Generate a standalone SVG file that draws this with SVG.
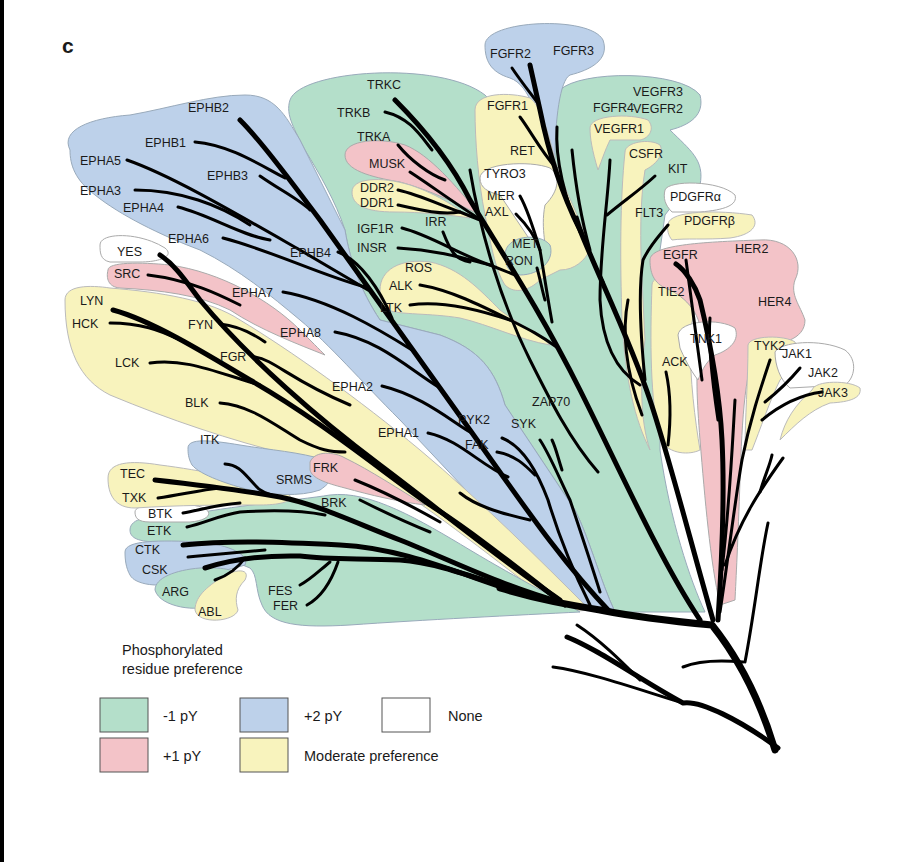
<svg xmlns="http://www.w3.org/2000/svg" width="906" height="867" viewBox="0 0 906 867">
<style>
.g{fill:#b4dfca;stroke:#9ab;stroke-width:1}
.b{fill:#bdd1ea;stroke:#9ab;stroke-width:1}
.p{fill:#f3c3c8;stroke:#aaa;stroke-width:1}
.y{fill:#f8f3bd;stroke:#bbb;stroke-width:1}
.w{fill:#fff;stroke:#aaa;stroke-width:1}
.br path{fill:none;stroke:#000;stroke-linecap:round;stroke-linejoin:round;stroke-width:3}
.br .t{stroke-width:5}
.br .T{stroke-width:7}
text{font-family:"Liberation Sans",Arial,sans-serif;font-size:12.5px;fill:#1a1a1a}
.lg{font-size:14.5px}
</style>
<rect width="906" height="867" fill="#fff"/>
<rect x="0" y="0" width="4" height="862" fill="#000"/>
<text x="62" y="53" style="font-size:21px;font-weight:bold">c</text>
<g id="regions">
<path class="g" d="M290,100 C300,70 440,60 485,95 L500,110 L560,90 C580,70 680,70 700,95 C705,115 690,125 670,130 C690,150 705,160 700,185 C690,195 675,200 665,215 L660,250 L660,450 C670,520 690,580 705,612 L615,612 C600,580 590,540 575,510 L505,405 C495,370 480,350 440,335 L380,320 C360,290 350,260 345,230 C335,200 320,175 305,150 C295,130 285,115 290,100 Z"/>
<path class="b" d="M70,150 C60,130 90,118 130,115 C170,108 210,95 245,95 C275,95 285,115 300,140 L345,230 C350,260 360,290 380,320 L440,335 C480,350 495,370 505,405 L575,510 C590,540 600,580 615,612 L575,610 C550,590 520,545 480,505 L400,420 C360,380 330,345 300,320 C270,295 240,270 200,250 C160,235 120,215 95,195 C75,180 70,165 70,150 Z"/>
<path class="w" d="M100,245 C100,232 140,232 165,248 C175,256 160,262 140,262 L110,262 C100,260 100,252 100,245 Z"/>
<path class="p" d="M108,270 C108,262 140,262 170,265 C220,272 270,300 300,330 C310,340 320,350 325,355 C300,345 260,330 230,310 C200,295 160,290 120,288 C108,287 106,278 108,270 Z"/>
<path class="y" d="M65,300 C65,285 90,285 110,288 C160,292 210,300 240,320 C290,350 360,400 420,450 C480,500 540,560 590,610 L565,612 C520,580 460,530 400,490 C360,470 320,460 290,455 C230,440 170,420 110,395 C80,380 65,350 65,300 Z"/>
<path class="g" d="M130,530 C130,518 150,515 175,518 C210,508 300,500 330,495 C370,490 420,520 470,550 C520,580 560,600 580,612 C520,615 420,620 350,625 C300,628 270,625 262,605 C255,590 258,575 250,568 C230,560 200,545 160,542 C138,542 130,538 130,530 Z"/>
<path class="b" d="M125,552 C125,540 160,540 200,542 C230,545 250,555 245,565 C230,570 200,575 180,582 C160,588 135,585 130,575 C126,568 125,560 125,552 Z"/>
<path class="g" d="M155,590 C155,578 175,570 200,568 C225,567 240,570 240,580 C230,590 215,595 210,605 C200,612 160,608 155,590 Z"/>
<path class="y" d="M195,610 C195,595 210,585 225,575 C240,568 250,570 245,580 C235,590 235,600 238,610 C235,622 198,625 195,610 Z"/>
<path class="w" d="M135,512 C135,504 160,503 190,505 C215,507 215,520 190,522 L150,522 C138,522 135,518 135,512 Z"/>
<path class="y" d="M108,478 C108,462 130,460 160,465 C200,470 250,480 280,490 C300,497 290,505 260,505 C220,505 180,505 135,508 C115,508 108,495 108,478 Z"/>
<path class="b" d="M188,448 C188,438 210,440 240,445 C270,450 300,452 325,460 C340,467 335,480 320,490 C300,497 270,495 250,490 C230,485 200,475 192,465 C188,458 188,452 188,448 Z"/>
<path class="p" d="M310,462 C315,450 335,452 345,458 C370,470 400,490 425,505 C400,502 370,495 345,488 C325,483 312,478 310,470 Z"/>
<path class="p" d="M345,155 C345,140 380,137 405,145 C430,155 455,185 480,215 C460,205 430,190 400,182 C370,177 345,170 345,155 Z"/>
<path class="y" d="M352,192 C352,178 380,176 410,185 C440,195 460,210 470,218 C450,215 420,212 395,212 C365,212 352,205 352,192 Z"/>
<path class="y" d="M380,290 C380,270 400,258 430,262 C460,268 480,290 500,310 C520,325 540,335 550,345 C520,340 490,325 460,318 C430,313 400,315 388,310 C380,305 380,298 380,290 Z"/>
<path class="b" d="M485,45 C485,20 590,15 603,40 C610,60 590,70 570,75 C560,80 555,120 555,160 L545,160 C540,120 530,85 510,78 C490,72 485,60 485,45 Z"/>
<path class="y" d="M475,110 C475,92 510,92 530,98 C540,105 548,130 555,160 L560,175 C570,200 585,230 590,250 C585,260 575,270 560,270 L540,280 C530,290 515,295 505,285 C495,270 490,240 485,215 C478,180 475,140 475,110 Z"/>
<path class="w" d="M480,178 C480,163 530,160 550,168 C560,175 560,190 545,205 C540,230 548,250 545,258 L530,240 C520,225 510,210 500,195 C488,192 480,188 480,178 Z"/>
<path class="g" d="M505,255 C505,235 540,232 550,245 C555,260 540,275 520,275 C508,273 505,265 505,255 Z"/>
<path class="y" d="M590,128 C590,115 630,113 648,120 C655,128 650,138 640,140 L610,140 C605,150 602,160 598,170 C592,150 590,138 590,128 Z"/>
<path class="y" d="M625,152 C625,142 650,138 660,145 C665,155 655,165 645,170 C640,200 640,240 642,280 L645,340 C640,380 640,420 650,450 C635,420 625,380 622,320 C620,260 620,200 625,152 Z"/>
<path class="w" d="M665,190 C668,180 720,180 735,195 C738,205 725,210 700,212 L672,212 C665,205 663,198 665,190 Z"/>
<path class="y" d="M668,224 C670,210 720,210 752,215 C760,225 752,235 730,238 C705,240 685,238 672,240 C668,235 667,230 668,224 Z"/>
<path class="y" d="M652,285 C652,272 690,270 700,282 C705,300 690,310 690,340 C690,380 695,420 700,450 C690,455 670,455 660,440 C650,400 650,340 652,285 Z"/>
<path class="p" d="M650,260 C650,245 700,242 760,240 C790,238 805,260 795,280 C790,295 800,305 805,320 C805,340 780,345 760,345 C745,360 742,420 740,480 C738,540 736,580 735,600 L720,605 C710,560 705,500 700,440 C697,400 695,370 700,345 C705,320 690,300 670,290 C655,285 650,275 650,260 Z"/>
<path class="w" d="M678,335 C680,320 720,318 735,328 C740,340 730,350 715,355 C705,362 700,375 698,380 C690,370 683,355 680,348 Z"/>
<path class="y" d="M748,345 C750,335 785,335 795,342 C800,355 790,370 780,380 C770,400 760,430 752,450 L745,450 C745,420 748,380 748,345 Z"/>
<path class="w" d="M775,352 C780,342 820,338 845,350 C858,360 855,378 845,385 L790,388 C780,380 775,365 775,352 Z"/>
<path class="y" d="M812,390 C815,380 850,380 860,388 C862,398 850,402 830,403 C810,410 795,425 780,440 C785,420 795,405 812,390 Z"/>
</g>
<g id="connectors" class="br">
<path class="T" d="M775,750 C760,700 740,660 712,625 C680,622 640,618 600,610 C570,605 540,600 500,588"/>
<path class="t" d="M778,748 C740,720 700,700 683,703 C640,680 600,650 567,637"/>
<path d="M683,703 C640,690 590,672 553,667"/>
<path d="M640,680 C620,660 600,640 577,625"/>
<path d="M743,662 C720,660 700,660 683,667"/>
<path d="M745,662 C755,610 760,560 768,523"/>
<path d="M725,565 C740,520 760,490 783,458"/>
<path d="M760,492 C765,475 770,465 772,455"/>
<path class="t" d="M610,612 C560,560 520,500 470,430 C420,360 370,290 320,220 C290,180 260,140 240,120"/>
<path d="M195,142 C230,145 260,165 285,178"/>
<path d="M127,160 C170,175 230,210 300,250 L368,290"/>
<path d="M135,190 C180,190 220,205 250,225"/>
<path d="M178,207 C210,215 240,235 270,240"/>
<path d="M260,176 C280,190 300,200 310,210"/>
<path d="M223,238 C270,250 320,275 365,287"/>
<path d="M338,252 C360,260 380,290 392,318"/>
<path d="M283,292 C330,300 380,330 412,350"/>
<path d="M335,332 C380,340 410,370 440,388"/>
<path d="M382,386 C420,395 450,420 470,432"/>
<path d="M428,433 C460,440 480,465 508,477"/>
<path d="M502,438 C520,445 535,465 548,500 C560,540 575,575 590,605"/>
<path d="M497,452 C515,455 525,465 535,475"/>
<path d="M460,493 C475,505 495,512 530,520"/>
<path d="M540,440 C550,455 560,480 570,500 C580,530 590,560 600,592"/>
<path d="M552,440 C556,448 558,458 562,470"/>
<path class="t" d="M700,620 C660,560 620,470 580,390 C540,310 500,250 470,200 C450,160 420,125 395,100"/>
<path d="M385,112 C410,118 420,135 432,150"/>
<path d="M398,145 C410,160 430,175 445,180"/>
<path d="M410,172 C430,185 450,200 478,218"/>
<path d="M398,190 C420,195 440,205 460,212"/>
<path d="M398,205 C420,210 440,215 460,212 L480,220"/>
<path d="M402,228 C430,235 460,255 490,265 L515,275"/>
<path d="M398,248 C440,250 470,260 490,265"/>
<path d="M443,232 C450,250 455,260 470,262"/>
<path d="M420,285 C450,290 480,305 510,320"/>
<path d="M410,305 C440,300 480,310 510,320 C530,330 540,335 558,348"/>
<path d="M470,170 C480,230 500,300 530,360 C550,400 570,440 598,472"/>
<path d="M520,196 C528,210 534,230 540,250 C545,280 548,300 552,322"/>
<path d="M516,214 C527,225 535,235 540,250"/>
<path d="M537,268 C540,278 542,290 545,300"/>
<path class="t" d="M713,620 C690,540 670,460 650,400 C630,340 600,280 580,230 C560,190 548,150 540,110 L530,65"/>
<path d="M512,68 C520,80 528,90 537,102"/>
<path d="M520,117 C530,130 540,150 556,168"/>
<path d="M557,127 C555,160 565,200 580,232"/>
<path d="M572,150 C575,180 580,215 590,250"/>
<path d="M577,217 C585,245 595,265 603,282"/>
<path d="M610,160 C608,200 600,250 600,300 C602,340 615,370 640,385"/>
<path d="M655,176 C640,190 625,200 607,215"/>
<path d="M668,225 C660,235 650,245 643,260 C638,290 640,330 645,380"/>
<path d="M628,300 C622,330 625,370 642,415"/>
<path d="M666,372 C670,390 672,410 668,445"/>
<path class="t" d="M718,620 C722,560 725,500 722,440 C720,400 712,350 700,300 C695,285 685,270 676,264"/>
<path d="M686,260 C690,290 695,330 702,380"/>
<path d="M710,318 C708,340 712,380 718,420"/>
<path d="M735,400 C732,450 730,500 722,570"/>
<path d="M770,360 C760,390 750,420 742,460 C735,500 728,560 720,612"/>
<path d="M800,368 C790,380 780,390 765,402"/>
<path d="M822,392 C800,395 780,405 762,420"/>
<path class="t" d="M560,600 C500,560 440,510 380,465 C320,420 250,360 200,300 C185,280 175,265 160,255"/>
<path d="M148,275 C190,280 220,295 240,305"/>
<path d="M220,324 C240,326 255,335 265,342"/>
<path d="M255,357 C275,360 290,380 350,405"/>
<path class="t" d="M113,310 C150,320 200,350 250,380 C320,420 380,470 430,505 C470,530 520,570 565,605"/>
<path d="M110,323 C140,323 160,330 180,340"/>
<path d="M150,363 C185,358 215,372 260,385"/>
<path d="M220,403 C250,405 275,425 300,440 C320,450 330,452 345,452"/>
<path class="t" d="M560,602 C500,585 450,560 400,540 C360,525 320,505 280,497 C240,490 200,485 155,480"/>
<path d="M158,498 C180,495 200,490 220,488"/>
<path d="M225,464 C240,465 245,475 255,485 C260,492 270,495 280,497"/>
<path d="M183,513 C200,510 215,505 240,503"/>
<path d="M187,527 C205,523 220,515 240,512 C270,510 300,510 325,515"/>
<path d="M360,500 C380,510 400,520 430,532"/>
<path d="M355,480 C380,490 410,505 440,522"/>
<path class="t" d="M510,590 C450,570 400,548 340,545 C280,542 230,540 183,545"/>
<path d="M188,557 C210,555 230,553 265,550"/>
<path class="t" d="M530,595 C480,580 440,563 400,560 C360,558 330,560 300,556 C260,555 230,560 205,568"/>
<path d="M300,585 C310,580 320,570 330,562"/>
<path d="M307,605 C320,598 330,585 338,562"/>
<path d="M215,580 C230,575 240,565 245,558"/>
</g>
<g id="labels">
<text x="188" y="112">EPHB2</text><text x="145" y="147">EPHB1</text><text x="80" y="165">EPHA5</text><text x="207" y="180">EPHB3</text><text x="80" y="195">EPHA3</text><text x="123" y="212">EPHA4</text><text x="168" y="243">EPHA6</text><text x="290" y="257">EPHB4</text><text x="232" y="297">EPHA7</text><text x="280" y="337">EPHA8</text><text x="332" y="391">EPHA2</text><text x="378" y="437">EPHA1</text><text x="458" y="424">PYK2</text><text x="465" y="449">FAK</text>
<text x="117" y="256">YES</text><text x="114" y="278">SRC</text><text x="80" y="305">LYN</text><text x="72" y="328">HCK</text><text x="188" y="329">FYN</text><text x="115" y="367">LCK</text><text x="220" y="361">FGR</text><text x="185" y="407">BLK</text>
<text x="200" y="444">ITK</text><text x="120" y="478">TEC</text><text x="276" y="484">SRMS</text><text x="313" y="472">FRK</text><text x="122" y="502">TXK</text><text x="321" y="507">BRK</text><text x="148" y="518">BTK</text><text x="147" y="535">ETK</text><text x="135" y="554">CTK</text><text x="142" y="574">CSK</text><text x="162" y="596">ARG</text><text x="198" y="616">ABL</text><text x="268" y="595">FES</text><text x="273" y="610">FER</text>
<text x="367" y="89">TRKC</text><text x="337" y="117">TRKB</text><text x="357" y="141">TRKA</text><text x="369" y="168">MUSK</text><text x="360" y="192">DDR2</text><text x="360" y="207">DDR1</text><text x="357" y="233">IGF1R</text><text x="425" y="226">IRR</text><text x="357" y="252">INSR</text><text x="405" y="272">ROS</text><text x="389" y="290">ALK</text><text x="380" y="312">LTK</text>
<text x="490" y="58">FGFR2</text><text x="553" y="55">FGFR3</text><text x="487" y="110">FGFR1</text><text x="510" y="155">RET</text><text x="484" y="178">TYRO3</text><text x="487" y="200">MER</text><text x="485" y="216">AXL</text><text x="512" y="248">MET</text><text x="505" y="265">RON</text>
<text x="593" y="112">FGFR4</text><text x="633" y="96">VEGFR3</text><text x="633" y="113">VEGFR2</text><text x="594" y="133">VEGFR1</text><text x="629" y="158">CSFR</text><text x="668" y="173">KIT</text><text x="670" y="201">PDGFRα</text><text x="635" y="217">FLT3</text><text x="684" y="225">PDGFRβ</text>
<text x="663" y="259">EGFR</text><text x="735" y="253">HER2</text><text x="658" y="296">TIE2</text><text x="758" y="306">HER4</text><text x="690" y="343">TNK1</text><text x="754" y="350">TYK2</text><text x="782" y="358">JAK1</text><text x="662" y="366">ACK</text><text x="808" y="377">JAK2</text><text x="818" y="397">JAK3</text><text x="532" y="406">ZAP70</text><text x="511" y="428">SYK</text>
</g>
<g id="legend">
<text class="lg" x="122" y="655">Phosphorylated</text>
<text class="lg" x="122" y="674">residue preference</text>
<rect class="g" x="100" y="698" width="48" height="34" style="stroke:#555"/>
<rect class="b" x="240" y="698" width="48" height="34" style="stroke:#555"/>
<rect class="w" x="382" y="698" width="48" height="34" style="stroke:#555"/>
<rect class="p" x="100" y="738" width="48" height="34" style="stroke:#555"/>
<rect class="y" x="240" y="738" width="48" height="34" style="stroke:#555"/>
<text class="lg" x="163" y="721">-1 pY</text><text class="lg" x="304" y="721">+2 pY</text><text class="lg" x="448" y="721">None</text>
<text class="lg" x="163" y="761">+1 pY</text><text class="lg" x="304" y="761">Moderate preference</text>
</g>
</svg>
